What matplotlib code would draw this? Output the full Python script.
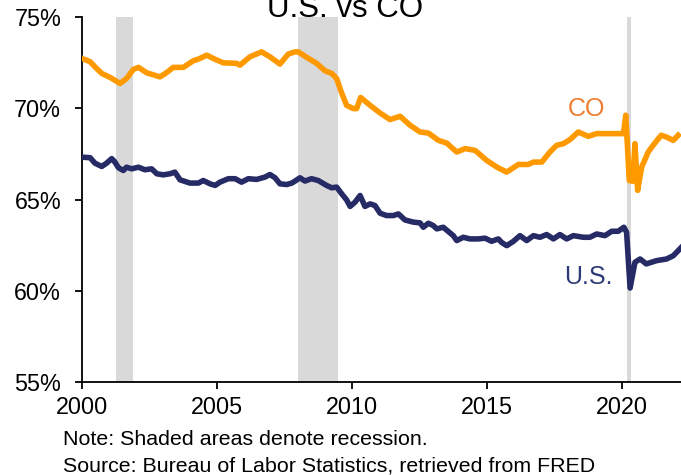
import numpy as np
import matplotlib
matplotlib.use('Agg')
import matplotlib.pyplot as plt

plt.rcParams['font.family'] = ['Liberation Sans', 'DejaVu Sans']

# labor force participation rate (%)
co_years = [2000.0, 2000.3, 2000.48, 2000.73, 2001.04, 2001.41, 2001.65, 2001.9, 2002.09, 2002.4,
            2002.89, 2003.14, 2003.38, 2003.75, 2004.12, 2004.37, 2004.62, 2004.86, 2005.23, 2005.73,
            2005.85, 2006.22, 2006.65, 2006.96, 2007.33, 2007.64, 2007.89, 2008.01, 2008.32, 2008.69,
            2009.0, 2009.25, 2009.43, 2009.6, 2009.8, 2010.05, 2010.17, 2010.32, 2010.67, 2011.04,
            2011.41, 2011.78, 2012.15, 2012.52, 2012.83, 2013.2, 2013.51, 2013.88, 2014.19, 2014.56,
            2014.99, 2015.36, 2015.73, 2016.16, 2016.53, 2016.72, 2017.03, 2017.33, 2017.58, 2017.83,
            2018.07, 2018.38, 2018.75, 2019.06, 2020.05, 2020.14, 2020.27, 2020.4, 2020.48, 2020.58,
            2020.73, 2020.97, 2021.2, 2021.45, 2021.65, 2021.9, 2022.08]
co_rate = [72.73, 72.55, 72.27, 71.91, 71.69, 71.36, 71.63, 72.13, 72.24, 71.94,
           71.72, 71.96, 72.24, 72.24, 72.6, 72.73, 72.91, 72.73, 72.49, 72.46,
           72.36, 72.82, 73.09, 72.82, 72.42, 72.97, 73.09, 73.09, 72.79, 72.46,
           72.05, 71.91, 71.63, 70.9, 70.16, 69.98, 69.98, 70.59, 70.16, 69.74,
           69.38, 69.56, 69.07, 68.7, 68.64, 68.24, 68.09, 67.6, 67.79, 67.69,
           67.14, 66.78, 66.5, 66.92, 66.92, 67.05, 67.05, 67.6, 67.97, 68.06,
           68.28, 68.7, 68.46, 68.61, 68.61, 69.62, 66.04, 66.0, 68.06, 65.5,
           66.78, 67.6, 68.06, 68.52, 68.42, 68.24, 68.52]

us_years = [2000.0, 2000.3, 2000.48, 2000.73, 2000.91, 2001.1, 2001.22, 2001.35, 2001.53, 2001.65,
            2001.84, 2002.09, 2002.33, 2002.58, 2002.77, 2003.01, 2003.26, 2003.44, 2003.63, 2004.0,
            2004.31, 2004.49, 2004.74, 2004.93, 2005.11, 2005.42, 2005.67, 2005.91, 2006.16, 2006.47,
            2006.78, 2006.96, 2007.15, 2007.33, 2007.58, 2007.77, 2007.89, 2008.07, 2008.26, 2008.5,
            2008.75, 2009.06, 2009.25, 2009.43, 2009.62, 2009.8, 2009.93, 2010.11, 2010.3, 2010.48,
            2010.67, 2010.85, 2011.04, 2011.28, 2011.53, 2011.72, 2011.96, 2012.27, 2012.52, 2012.64,
            2012.83, 2013.01, 2013.14, 2013.38, 2013.75, 2013.88, 2014.12, 2014.37, 2014.68, 2014.93,
            2015.17, 2015.42, 2015.54, 2015.73, 2015.98, 2016.22, 2016.47, 2016.72, 2016.96, 2017.21,
            2017.46, 2017.7, 2017.95, 2018.2, 2018.57, 2018.81, 2019.06, 2019.37, 2019.62, 2019.86,
            2020.07, 2020.17, 2020.3, 2020.48, 2020.67, 2020.9, 2021.28, 2021.65, 2021.9, 2022.2]
us_rate = [67.32, 67.29, 66.99, 66.81, 66.99, 67.24, 67.05, 66.74, 66.59, 66.77,
           66.68, 66.77, 66.63, 66.68, 66.41, 66.35, 66.41, 66.5, 66.08, 65.9,
           65.9, 66.04, 65.86, 65.77, 65.95, 66.14, 66.14, 65.95, 66.14, 66.1,
           66.23, 66.37, 66.19, 65.86, 65.82, 65.9, 66.01, 66.19, 66.01, 66.14,
           66.04, 65.77, 65.64, 65.68, 65.31, 64.98, 64.62, 64.85, 65.22, 64.62,
           64.76, 64.67, 64.25, 64.12, 64.12, 64.21, 63.88, 63.76, 63.72, 63.48,
           63.7, 63.57, 63.39, 63.48, 63.02, 62.75, 62.93, 62.84, 62.84, 62.88,
           62.71, 62.84, 62.65, 62.47, 62.71, 63.02, 62.75, 63.02, 62.93, 63.08,
           62.84, 63.08, 62.84, 63.02, 62.93, 62.93, 63.11, 63.02, 63.26, 63.26,
           63.48, 63.2, 60.15, 61.56, 61.74, 61.47, 61.65, 61.74, 61.92, 62.38]

recessions = [(2001.25, 2001.9), (2008.0, 2009.48), (2020.18, 2020.33)]

year_ticks = [2000, 2005, 2010, 2015, 2020]
pct_ticks = [55, 60, 65, 70, 75]

fig = plt.figure(figsize=(6.81, 4.75), dpi=100)
ax = fig.add_axes([82/681, 1 - 382/475, 1 - 82/681, (382 - 17)/475])

for start, end in recessions:
    ax.axvspan(start, end, color='#d9d9d9', lw=0, zorder=0)

ax.plot(co_years, co_rate, color='#ff9900', lw=4.0, solid_joinstyle='round', zorder=3)
ax.plot(us_years, us_rate, color='#262b66', lw=4.0, solid_joinstyle='round', zorder=3)

ax.set_xlim(2000, 2000 + (681 - 82)/27)
ax.set_ylim(55, 75)
ax.set_xticks(year_ticks)
ax.set_yticks(pct_ticks)
ax.set_yticklabels([f'{p}%' for p in pct_ticks])

for s in ['top', 'right']:
    ax.spines[s].set_visible(False)
for s in ['left', 'bottom']:
    ax.spines[s].set_linewidth(1.3)
ax.tick_params(axis='both', direction='out', length=5, width=1.3, labelsize=16.8)
ax.tick_params(axis='y', pad=10)
ax.tick_params(axis='x', pad=5)

ax.text(2018.67, 69.6, 'CO', color='#ed7d31', fontsize=18, ha='center', va='baseline')
ax.text(2018.76, 60.38, 'U.S.', color='#2e3a78', fontsize=18, ha='center', va='baseline')

fig.text(345/681, 1 - 17.3/475, 'U.S. vs CO', ha='center', va='baseline', fontsize=22.5)
fig.text(63/681, 1 - 445/475, 'Note: Shaded areas denote recession.', fontsize=15.4, va='baseline')
fig.text(63/681, 1 - 471/475, 'Source: Bureau of Labor Statistics, retrieved from FRED',
         fontsize=15.4, va='baseline')

fig.savefig('out.png', dpi=100)
